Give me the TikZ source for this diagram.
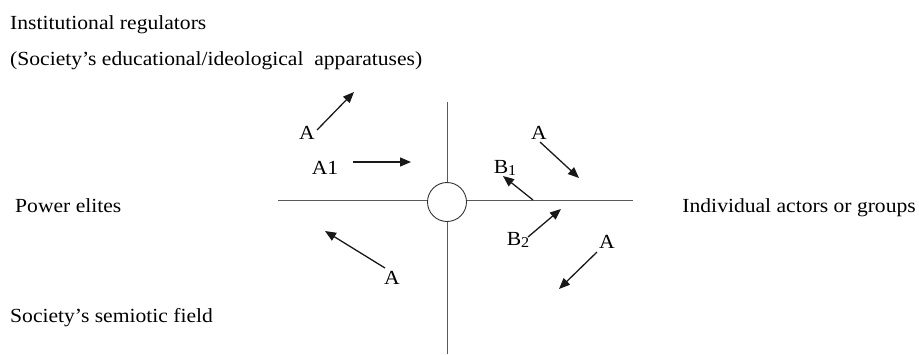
\documentclass[tikz,border=0pt]{standalone}
\usepackage{fontspec}
\setmainfont[FakeStretch=1.08]{Liberation Serif}
\usetikzlibrary{arrows.meta}
\begin{document}
\begin{tikzpicture}[x=1pt,y=-1pt,
  lbl/.style={inner sep=0pt,font=\fontsize{20}{24}\selectfont,text=black},
  axis/.style={draw=black!65,line width=0.9pt},
  arr/.style={draw=black!90,line width=1.3pt,-{Triangle[length=11pt,width=9pt]}}]
\useasboundingbox (0,0) rectangle (919,354);
% texts
\node[lbl,anchor=base west] (inst) at (10,29) {Institutional regulators};
\node[lbl,anchor=base west] (app) at (10,65) {(Society's educational/ideological\ \ apparatuses)};
\node[lbl,anchor=base west] (pow) at (15,212) {Power elites};
\node[lbl,anchor=base west] (sem) at (10,322) {Society's semiotic field};
\node[lbl,anchor=base east] (ind) at (916,212) {Individual actors or groups};
% axes
\coordinate (vt) at (447,102);
\coordinate (vb) at (447,354);
\coordinate (hl) at (278,200);
\coordinate (hr) at (633,200);
\node[draw=black!80,line width=0.9pt,circle,minimum size=39pt,inner sep=0pt,fill=white] (c) at (447,202) {};
\draw[axis] (vt) -- (c);
\draw[axis] (c) -- (vb);
\draw[axis] (hl) -- (c.west |- hl);
\draw[axis] (c.east |- hr) -- (hr);
% arrows and labels
\node[lbl] (a1) at (307,133) {A};
\coordinate (a1s) at (317,130); \coordinate (a1e) at (354,92);
\draw[arr] (a1s) -- (a1e);
\node[lbl] (aone) at (325,168) {A1};
\coordinate (aones) at (353,162); \coordinate (aonee) at (411,162);
\draw[arr] (aones) -- (aonee);
\node[lbl] (a2) at (539,133) {A};
\coordinate (a2s) at (540,142); \coordinate (a2e) at (579,178);
\draw[arr] (a2s) -- (a2e);
\node[lbl] (b1) at (505,168) {B\raisebox{-0.25ex}{\fontsize{15}{18}\selectfont 1}};
\coordinate (b1s) at (533,200); \coordinate (b1e) at (503,176);
\draw[arr] (b1s) -- (b1e);
\node[lbl] (b2) at (518,240) {B\raisebox{-0.25ex}{\fontsize{15}{18}\selectfont 2}};
\coordinate (b2s) at (528,237); \coordinate (b2e) at (561,209);
\draw[arr] (b2s) -- (b2e);
\node[lbl] (a3) at (607,242) {A};
\coordinate (a3s) at (597,252); \coordinate (a3e) at (559,289);
\draw[arr] (a3s) -- (a3e);
\node[lbl] (a4) at (392,278) {A};
\coordinate (a4s) at (385,268); \coordinate (a4e) at (325,231);
\draw[arr] (a4s) -- (a4e);
\end{tikzpicture}
\end{document}
